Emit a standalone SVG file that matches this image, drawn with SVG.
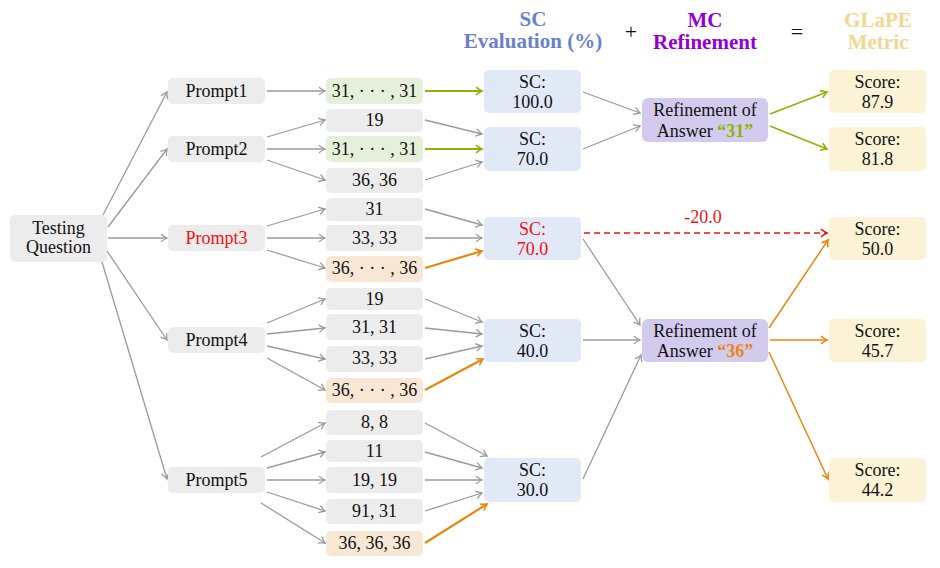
<svg xmlns="http://www.w3.org/2000/svg" width="940" height="568" viewBox="0 0 940 568" font-family="Liberation Serif">
<defs>
<style>
svg text, svg tspan{font-family:'Liberation Serif',serif !important}
text{font-size:18px;text-anchor:middle;fill:#111}
.t{font-weight:bold;font-size:21px}
.g{fill:#ececec}.ag{fill:#e4f0da}.ao{fill:#f8e7d5}.sc{fill:#e1e9f7}.rf{fill:#d3cbee}.s{fill:#fcf3d6}
.e{stroke:#9a9a9a;stroke-width:1.3;fill:none;marker-end:url(#mg)}
.eg{stroke:#8db500;stroke-width:2.2;fill:none;marker-end:url(#mgr)}
.eo{stroke:#e8870e;stroke-width:2.2;fill:none;marker-end:url(#mor)}
.eg2{stroke:#8db500;stroke-width:1.5;fill:none;marker-end:url(#mgr)}
.eo2{stroke:#e8870e;stroke-width:1.5;fill:none;marker-end:url(#mor)}
.er{stroke:#f01010;stroke-width:1.5;fill:none;stroke-dasharray:6 4;marker-end:url(#mr)}
</style>
<marker id="mg" markerUnits="userSpaceOnUse" viewBox="-8 -5 10 10" refX="0" refY="0" markerWidth="10" markerHeight="10" orient="auto"><path d="M-6,-3.8 Q-2,-0.8 0,0 Q-2,0.8 -6,3.8" fill="none" stroke="#9a9a9a" stroke-width="1.3"/></marker>
<marker id="mgr" markerUnits="userSpaceOnUse" viewBox="-8 -5 10 10" refX="0" refY="0" markerWidth="10" markerHeight="10" orient="auto"><path d="M-6,-3.8 Q-2,-0.8 0,0 Q-2,0.8 -6,3.8" fill="none" stroke="#8db500" stroke-width="1.6"/></marker>
<marker id="mor" markerUnits="userSpaceOnUse" viewBox="-8 -5 10 10" refX="0" refY="0" markerWidth="10" markerHeight="10" orient="auto"><path d="M-6,-3.8 Q-2,-0.8 0,0 Q-2,0.8 -6,3.8" fill="none" stroke="#e8870e" stroke-width="1.6"/></marker>
<marker id="mr" markerUnits="userSpaceOnUse" viewBox="-8 -5 10 10" refX="0" refY="0" markerWidth="10" markerHeight="10" orient="auto"><path d="M-6,-3.8 Q-2,-0.8 0,0 Q-2,0.8 -6,3.8" fill="none" stroke="#f01010" stroke-width="1.5"/></marker>
</defs>
<rect width="940" height="568" fill="#fff"/>
<g font-family="Liberation Serif">
<g id="titles">
<text class="t" x="533" y="26" style="fill:#6a7fd0">SC</text>
<text class="t" x="533" y="48" style="fill:#6a7fd0">Evaluation (%)</text>
<text x="631" y="39" style="font-size:22px">+</text>
<text class="t" x="705" y="27" style="fill:#9400d3">MC</text>
<text class="t" x="705" y="49" style="fill:#9400d3">Refinement</text>
<text x="797" y="39" style="font-size:22px">=</text>
<text class="t" x="878" y="27" style="fill:#f0d890">GLaPE</text>
<text class="t" x="878" y="49" style="fill:#f0d890">Metric</text>
</g>

<g id="connectors">
<line class="e" x1="103" y1="215" x2="167" y2="92"/>
<line class="e" x1="108" y1="227" x2="167" y2="149"/>
<line class="e" x1="108" y1="238" x2="167" y2="238"/>
<line class="e" x1="107" y1="251" x2="167" y2="340"/>
<line class="e" x1="102" y1="262" x2="167" y2="479"/>

<line class="e" x1="267" y1="91" x2="325" y2="91"/>
<line class="e" x1="267" y1="137" x2="325" y2="120"/>
<line class="e" x1="267" y1="149" x2="325" y2="149"/>
<line class="e" x1="267" y1="160" x2="325" y2="180"/>
<line class="e" x1="267" y1="226" x2="325" y2="209"/>
<line class="e" x1="267" y1="238" x2="325" y2="238"/>
<line class="e" x1="267" y1="250" x2="325" y2="268"/>
<line class="e" x1="267" y1="323" x2="325" y2="299"/>
<line class="e" x1="267" y1="334" x2="325" y2="328"/>
<line class="e" x1="267" y1="346" x2="325" y2="359"/>
<line class="e" x1="267" y1="358" x2="325" y2="390"/>
<line class="e" x1="261" y1="457" x2="325" y2="423"/>
<line class="e" x1="267" y1="468" x2="325" y2="452"/>
<line class="e" x1="267" y1="480" x2="325" y2="480"/>
<line class="e" x1="267" y1="492" x2="325" y2="511"/>
<line class="e" x1="261" y1="503" x2="325" y2="543"/>

<line class="eg" x1="425" y1="91" x2="482" y2="91"/>
<line class="e" x1="425" y1="120" x2="482" y2="134"/>
<line class="eg" x1="425" y1="149" x2="482" y2="149"/>
<line class="e" x1="425" y1="180" x2="482" y2="162"/>
<line class="e" x1="425" y1="209" x2="482" y2="225"/>
<line class="e" x1="425" y1="238" x2="482" y2="238"/>
<line class="eo" x1="425" y1="268" x2="482" y2="251"/>
<line class="e" x1="425" y1="299" x2="482" y2="322"/>
<line class="e" x1="425" y1="328" x2="482" y2="334"/>
<line class="e" x1="425" y1="359" x2="482" y2="346"/>
<line class="eo" x1="425" y1="390" x2="483" y2="359"/>
<line class="e" x1="425" y1="423" x2="487" y2="456"/>
<line class="e" x1="425" y1="452" x2="482" y2="468"/>
<line class="e" x1="425" y1="480" x2="482" y2="480"/>
<line class="e" x1="425" y1="511" x2="482" y2="493"/>
<line class="eo" x1="425" y1="543" x2="487" y2="504"/>

<line class="e" x1="583" y1="92" x2="640" y2="113"/>
<line class="e" x1="583" y1="149" x2="640" y2="126"/>
<line class="e" x1="583" y1="239" x2="640" y2="325"/>
<line class="e" x1="583" y1="340" x2="640" y2="340"/>
<line class="e" x1="583" y1="479" x2="641" y2="355"/>

<line class="eg2" x1="770" y1="114" x2="827" y2="92"/>
<line class="eg2" x1="770" y1="126" x2="827" y2="149"/>
<line class="eo2" x1="769" y1="328" x2="828" y2="240"/>
<line class="eo2" x1="770" y1="340" x2="827" y2="340"/>
<line class="eo2" x1="769" y1="352" x2="828" y2="479"/>

<line class="er" x1="584" y1="233" x2="827" y2="233"/>
<text x="703" y="223" style="fill:#f01010">-20.0</text>
</g>

<g id="testing-question"><rect class="g" x="10" y="215" width="97" height="47" rx="5"/><text x="58.5" y="234">Testing</text><text x="58.5" y="253">Question</text></g>

<g id="prompt1"><rect class="g" x="168" y="78" width="97" height="26" rx="5"/><text x="216.5" y="97">Prompt1</text></g>
<g id="prompt2"><rect class="g" x="168" y="136" width="97" height="26" rx="5"/><text x="216.5" y="155">Prompt2</text></g>
<g id="prompt3"><rect class="g" x="168" y="225" width="97" height="26" rx="5"/><text x="216.5" y="244" style="fill:#f01010">Prompt3</text></g>
<g id="prompt4"><rect class="g" x="168" y="327" width="97" height="26" rx="5"/><text x="216.5" y="346">Prompt4</text></g>
<g id="prompt5"><rect class="g" x="168" y="467" width="97" height="26" rx="5"/><text x="216.5" y="486">Prompt5</text></g>

<g id="a1"><rect class="ag" x="326" y="78" width="97" height="26" rx="5"/><text x="374.5" y="97">31, · · · , 31</text></g>
<g id="a2"><rect class="g" x="326" y="109" width="97" height="23" rx="5"/><text x="374.5" y="126">19</text></g>
<g id="a3"><rect class="ag" x="326" y="136" width="97" height="26" rx="5"/><text x="374.5" y="155">31, · · · , 31</text></g>
<g id="a4"><rect class="g" x="326" y="168" width="97" height="25" rx="5"/><text x="374.5" y="186">36, 36</text></g>
<g id="a5"><rect class="g" x="326" y="198" width="97" height="23" rx="5"/><text x="374.5" y="215">31</text></g>
<g id="a6"><rect class="g" x="326" y="225" width="97" height="26" rx="5"/><text x="374.5" y="244">33, 33</text></g>
<g id="a7"><rect class="ao" x="326" y="256" width="97" height="26" rx="5"/><text x="374.5" y="274">36, · · · , 36</text></g>
<g id="a8"><rect class="g" x="326" y="288" width="97" height="22" rx="5"/><text x="374.5" y="305">19</text></g>
<g id="a9"><rect class="g" x="326" y="314" width="97" height="26" rx="5"/><text x="374.5" y="333">31, 31</text></g>
<g id="a10"><rect class="g" x="326" y="346" width="97" height="26" rx="5"/><text x="374.5" y="364">33, 33</text></g>
<g id="a11"><rect class="ao" x="326" y="378" width="97" height="25" rx="5"/><text x="374.5" y="396">36, · · · , 36</text></g>
<g id="a12"><rect class="g" x="326" y="410" width="97" height="25" rx="5"/><text x="374.5" y="428">8, 8</text></g>
<g id="a13"><rect class="g" x="326" y="440" width="97" height="22" rx="5"/><text x="374.5" y="457">11</text></g>
<g id="a14"><rect class="g" x="326" y="467" width="97" height="26" rx="5"/><text x="374.5" y="486">19, 19</text></g>
<g id="a15"><rect class="g" x="326" y="499" width="97" height="25" rx="5"/><text x="374.5" y="517">91, 31</text></g>
<g id="a16"><rect class="ao" x="326" y="531" width="97" height="25" rx="5"/><text x="374.5" y="549">36, 36, 36</text></g>

<g id="sc1"><rect class="sc" x="484" y="70" width="97" height="43" rx="5"/><text x="532.5" y="88">SC:</text><text x="532.5" y="108">100.0</text></g>
<g id="sc2"><rect class="sc" x="484" y="127" width="97" height="44" rx="5"/><text x="532.5" y="145">SC:</text><text x="532.5" y="165">70.0</text></g>
<g id="sc3"><rect class="sc" x="484" y="217" width="97" height="43" rx="5"/><text x="532.5" y="235" style="fill:#f01010">SC:</text><text x="532.5" y="255" style="fill:#f01010">70.0</text></g>
<g id="sc4"><rect class="sc" x="484" y="319" width="97" height="43" rx="5"/><text x="532.5" y="337">SC:</text><text x="532.5" y="357">40.0</text></g>
<g id="sc5"><rect class="sc" x="484" y="458" width="97" height="44" rx="5"/><text x="532.5" y="476">SC:</text><text x="532.5" y="496">30.0</text></g>

<g id="ref31"><rect class="rf" x="642" y="98" width="126" height="44" rx="6"/><text x="705" y="116">Refinement of</text><text x="705" y="137">Answer <tspan style="fill:#8db500;font-weight:bold">“31”</tspan></text></g>
<g id="ref36"><rect class="rf" x="642" y="319" width="126" height="43" rx="6"/><text x="705" y="337">Refinement of</text><text x="705" y="357">Answer <tspan style="fill:#e8870e;font-weight:bold">“36”</tspan></text></g>

<g id="s1"><rect class="s" x="829" y="70" width="97" height="43" rx="5"/><text x="877.5" y="88">Score:</text><text x="877.5" y="108">87.9</text></g>
<g id="s2"><rect class="s" x="829" y="127" width="97" height="44" rx="5"/><text x="877.5" y="145">Score:</text><text x="877.5" y="165">81.8</text></g>
<g id="s3"><rect class="s" x="829" y="217" width="97" height="43" rx="5"/><text x="877.5" y="235">Score:</text><text x="877.5" y="255">50.0</text></g>
<g id="s4"><rect class="s" x="829" y="319" width="97" height="43" rx="5"/><text x="877.5" y="337">Score:</text><text x="877.5" y="357">45.7</text></g>
<g id="s5"><rect class="s" x="829" y="458" width="97" height="44" rx="5"/><text x="877.5" y="476">Score:</text><text x="877.5" y="496">44.2</text></g>
</g>
</svg>
